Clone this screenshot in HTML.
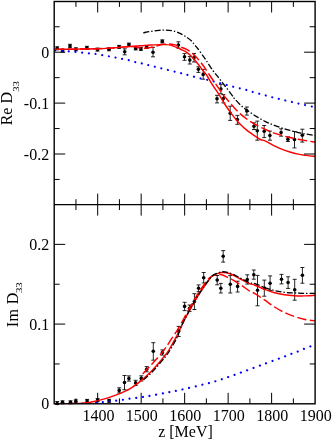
<!DOCTYPE html><html><head><meta charset="utf-8"><style>html,body{margin:0;padding:0;background:#fff}body{width:332px;height:441px;overflow:hidden}svg{will-change:transform}svg{display:block}text{font-family:"Liberation Serif",serif;fill:#000}</style></head><body>
<svg width="332" height="441" viewBox="0 0 332 441">
<rect width="332" height="441" fill="#fff"/>
<defs><clipPath id="ct"><rect x="54.20" y="1.50" width="260.90" height="203.10"/></clipPath><clipPath id="cb"><rect x="54.20" y="204.60" width="260.90" height="199.20"/></clipPath></defs>
<g stroke="#000" stroke-width="1" fill="#000">
<path stroke-width="0.85" d="M57.20 46.80V49.80M55.20 46.80H59.20M55.20 49.80H59.20" fill="none"/>
<circle cx="57.20" cy="48.30" r="1.8" stroke="none"/>
<path stroke-width="0.85" d="M62.60 49.00V52.00M60.60 49.00H64.60M60.60 52.00H64.60" fill="none"/>
<circle cx="62.60" cy="50.50" r="1.8" stroke="none"/>
<path stroke-width="0.85" d="M70.00 44.30V47.70M68.00 44.30H72.00M68.00 47.70H72.00" fill="none"/>
<circle cx="70.00" cy="46.00" r="1.8" stroke="none"/>
<path stroke-width="0.85" d="M75.90 47.80V50.80M73.90 47.80H77.90M73.90 50.80H77.90" fill="none"/>
<circle cx="75.90" cy="49.30" r="1.8" stroke="none"/>
<path stroke-width="0.85" d="M86.90 46.30V49.30M84.90 46.30H88.90M84.90 49.30H88.90" fill="none"/>
<circle cx="86.90" cy="47.80" r="1.8" stroke="none"/>
<path stroke-width="0.85" d="M97.50 48.10V51.10M95.50 48.10H99.50M95.50 51.10H99.50" fill="none"/>
<circle cx="97.50" cy="49.60" r="1.8" stroke="none"/>
<path stroke-width="0.85" d="M109.00 47.80V50.80M107.00 47.80H111.00M107.00 50.80H111.00" fill="none"/>
<circle cx="109.00" cy="49.30" r="1.8" stroke="none"/>
<path stroke-width="0.85" d="M119.10 45.40V48.40M117.10 45.40H121.10M117.10 48.40H121.10" fill="none"/>
<circle cx="119.10" cy="46.90" r="1.8" stroke="none"/>
<path stroke-width="0.85" d="M124.70 48.80V54.80M122.70 48.80H126.70M122.70 54.80H126.70" fill="none"/>
<circle cx="124.70" cy="51.80" r="1.8" stroke="none"/>
<path stroke-width="0.85" d="M128.90 43.10V46.10M126.90 43.10H130.90M126.90 46.10H130.90" fill="none"/>
<circle cx="128.90" cy="44.60" r="1.8" stroke="none"/>
<path stroke-width="0.85" d="M135.70 46.90V49.90M133.70 46.90H137.70M133.70 49.90H137.70" fill="none"/>
<circle cx="135.70" cy="48.40" r="1.8" stroke="none"/>
<path stroke-width="0.85" d="M140.90 47.40V50.40M138.90 47.40H142.90M138.90 50.40H142.90" fill="none"/>
<circle cx="140.90" cy="48.90" r="1.8" stroke="none"/>
<path stroke-width="0.85" d="M146.70 45.50V48.50M144.70 45.50H148.70M144.70 48.50H148.70" fill="none"/>
<circle cx="146.70" cy="47.00" r="1.8" stroke="none"/>
<path stroke-width="0.85" d="M153.00 47.30V56.80M151.00 47.30H155.00M151.00 56.80H155.00" fill="none"/>
<circle cx="153.00" cy="52.30" r="1.8" stroke="none"/>
<path stroke-width="0.85" d="M162.30 39.90V42.90M160.30 39.90H164.30M160.30 42.90H164.30" fill="none"/>
<circle cx="162.30" cy="41.40" r="1.8" stroke="none"/>
<path stroke-width="0.85" d="M178.40 41.80V48.10M176.40 41.80H180.40M176.40 48.10H180.40" fill="none"/>
<circle cx="178.40" cy="45.00" r="1.8" stroke="none"/>
<path stroke-width="0.85" d="M184.50 53.60V60.30M182.50 53.60H186.50M182.50 60.30H186.50" fill="none"/>
<circle cx="184.50" cy="56.80" r="1.8" stroke="none"/>
<path stroke-width="0.85" d="M189.80 56.60V64.00M187.80 56.60H191.80M187.80 64.00H191.80" fill="none"/>
<circle cx="189.80" cy="60.10" r="1.8" stroke="none"/>
<path stroke-width="0.85" d="M194.00 53.50V62.00M192.00 53.50H196.00M192.00 62.00H196.00" fill="none"/>
<circle cx="194.00" cy="57.80" r="1.8" stroke="none"/>
<path stroke-width="0.85" d="M198.40 66.80V72.40M196.40 66.80H200.40M196.40 72.40H200.40" fill="none"/>
<circle cx="198.40" cy="69.20" r="1.8" stroke="none"/>
<path stroke-width="0.85" d="M203.20 69.40V79.20M201.20 69.40H205.20M201.20 79.20H205.20" fill="none"/>
<circle cx="203.20" cy="74.40" r="1.8" stroke="none"/>
<path stroke-width="0.85" d="M217.00 95.30V102.90M215.00 95.30H219.00M215.00 102.90H219.00" fill="none"/>
<circle cx="217.00" cy="98.80" r="1.8" stroke="none"/>
<path stroke-width="0.85" d="M220.90 84.30V93.80M218.90 84.30H222.90M218.90 93.80H222.90" fill="none"/>
<circle cx="220.90" cy="89.00" r="1.8" stroke="none"/>
<path stroke-width="0.85" d="M223.40 94.60V102.90M221.40 94.60H225.40M221.40 102.90H225.40" fill="none"/>
<circle cx="223.40" cy="98.50" r="1.8" stroke="none"/>
<path stroke-width="0.85" d="M230.20 106.20V120.40M228.20 106.20H232.20M228.20 120.40H232.20" fill="none"/>
<circle cx="230.20" cy="113.30" r="1.8" stroke="none"/>
<path stroke-width="0.85" d="M237.40 115.40V124.30M235.40 115.40H239.40M235.40 124.30H239.40" fill="none"/>
<circle cx="237.40" cy="119.50" r="1.8" stroke="none"/>
<path stroke-width="0.85" d="M246.80 107.00V115.10M244.80 107.00H248.80M244.80 115.10H248.80" fill="none"/>
<circle cx="246.80" cy="110.90" r="1.8" stroke="none"/>
<path stroke-width="0.85" d="M254.00 122.80V129.50M252.00 122.80H256.00M252.00 129.50H256.00" fill="none"/>
<circle cx="254.00" cy="126.30" r="1.8" stroke="none"/>
<path stroke-width="0.85" d="M257.30 121.10V140.20M255.30 121.10H259.30M255.30 140.20H259.30" fill="none"/>
<circle cx="257.30" cy="130.80" r="1.8" stroke="none"/>
<path stroke-width="0.85" d="M264.20 125.50V137.60M262.20 125.50H266.20M262.20 137.60H266.20" fill="none"/>
<circle cx="264.20" cy="131.20" r="1.8" stroke="none"/>
<path stroke-width="0.85" d="M269.90 131.20V140.20M267.90 131.20H271.90M267.90 140.20H271.90" fill="none"/>
<circle cx="269.90" cy="135.50" r="1.8" stroke="none"/>
<path stroke-width="0.85" d="M281.10 128.80V136.20M279.10 128.80H283.10M279.10 136.20H283.10" fill="none"/>
<circle cx="281.10" cy="132.50" r="1.8" stroke="none"/>
<path stroke-width="0.85" d="M287.90 136.90V141.50M285.90 136.90H289.90M285.90 141.50H289.90" fill="none"/>
<circle cx="287.90" cy="139.20" r="1.8" stroke="none"/>
<path stroke-width="0.85" d="M294.50 131.50V147.90M292.50 131.50H296.50M292.50 147.90H296.50" fill="none"/>
<circle cx="294.50" cy="139.60" r="1.8" stroke="none"/>
<path stroke-width="0.85" d="M302.30 129.20V142.10M300.30 129.20H304.30M300.30 142.10H304.30" fill="none"/>
<circle cx="302.30" cy="135.20" r="1.8" stroke="none"/>
</g>
<g clip-path="url(#ct)" fill="none">
<path d="M55.30 50.40 C56.42 50.47 59.82 50.65 62.00 50.80 C64.18 50.95 66.22 51.12 68.40 51.30 C70.58 51.48 72.85 51.68 75.10 51.90 C77.35 52.12 79.63 52.35 81.90 52.60 C84.17 52.85 86.52 53.18 88.70 53.40 C90.88 53.62 92.82 53.63 95.00 53.90 C97.18 54.17 99.53 54.62 101.80 55.00 C104.07 55.38 106.35 55.78 108.60 56.20 C110.85 56.62 113.05 57.05 115.30 57.50 C117.55 57.95 119.92 58.47 122.10 58.90 C124.28 59.33 126.27 59.58 128.40 60.10 C130.53 60.62 132.68 61.45 134.90 62.00 C137.12 62.55 137.52 62.40 141.70 63.40 C145.88 64.40 153.37 66.35 160.00 68.00 C166.63 69.65 176.83 72.12 181.50 73.30 C186.17 74.48 185.82 74.50 188.00 75.10 C190.18 75.70 192.42 76.32 194.60 76.90 C196.78 77.48 198.98 78.12 201.10 78.60 C203.22 79.08 205.20 79.32 207.30 79.80 C209.40 80.28 211.50 80.92 213.70 81.50 C215.90 82.08 218.27 82.70 220.50 83.30 C222.73 83.90 224.92 84.52 227.10 85.10 C229.28 85.68 231.38 86.23 233.60 86.80 C235.82 87.37 238.18 87.95 240.40 88.50 C242.62 89.05 244.77 89.50 246.90 90.10 C249.03 90.70 251.03 91.47 253.20 92.10 C255.37 92.73 257.68 93.30 259.90 93.90 C262.12 94.50 264.35 95.12 266.50 95.70 C268.65 96.28 270.63 96.85 272.80 97.40 C274.97 97.95 277.32 98.47 279.50 99.00 C281.68 99.53 283.68 100.07 285.90 100.60 C288.12 101.13 290.58 101.68 292.80 102.20 C295.02 102.72 297.02 103.20 299.20 103.70 C301.38 104.20 303.65 104.70 305.90 105.20 C308.15 105.70 311.18 106.37 312.70 106.70 C314.22 107.03 314.62 107.12 315.00 107.20" stroke="#0000ff" stroke-width="2.2" stroke-linecap="round" stroke-dasharray="0.01 6.73"/>
<path d="M54.50 49.40 C57.92 49.35 68.25 49.20 75.00 49.10 C81.75 49.00 89.17 48.97 95.00 48.80 C100.83 48.63 104.98 48.42 110.00 48.10 C115.02 47.78 121.27 47.15 125.10 46.90 C128.93 46.65 130.52 46.43 133.00 46.60 C135.48 46.77 137.83 47.65 140.00 47.90 C142.17 48.15 144.00 48.22 146.00 48.10 C148.00 47.98 150.00 47.62 152.00 47.20 C154.00 46.78 156.17 46.07 158.00 45.60 C159.83 45.13 161.33 44.68 163.00 44.40 C164.67 44.12 166.17 43.87 168.00 43.90 C169.83 43.93 172.00 44.12 174.00 44.60 C176.00 45.08 177.75 45.93 180.00 46.80 C182.25 47.67 185.00 48.30 187.50 49.80 C190.00 51.30 192.48 53.30 195.00 55.80 C197.52 58.30 200.18 61.60 202.60 64.80 C205.02 68.00 207.22 71.67 209.50 75.00 C211.78 78.33 214.03 81.53 216.30 84.80 C218.57 88.07 221.15 91.98 223.10 94.60 C225.05 97.22 226.18 98.35 228.00 100.50 C229.82 102.65 232.00 105.32 234.00 107.50 C236.00 109.68 237.73 111.58 240.00 113.60 C242.27 115.62 245.08 117.80 247.60 119.60 C250.12 121.40 252.58 122.97 255.10 124.40 C257.62 125.83 260.18 127.03 262.70 128.20 C265.22 129.37 268.43 130.62 270.20 131.40 C271.97 132.18 271.40 132.23 273.30 132.90 C275.20 133.57 278.83 134.63 281.60 135.40 C284.37 136.17 287.15 136.87 289.90 137.50 C292.65 138.13 295.35 138.67 298.10 139.20 C300.85 139.73 303.58 140.20 306.40 140.70 C309.22 141.20 313.57 141.95 315.00 142.20" stroke="#ff0000" stroke-width="1.45" stroke-dasharray="9.5 3.3"/>
<path d="M54.50 49.40 C57.92 49.35 68.25 49.20 75.00 49.10 C81.75 49.00 89.17 48.97 95.00 48.80 C100.83 48.63 104.98 48.42 110.00 48.10 C115.02 47.78 120.07 47.28 125.10 46.90 C130.13 46.52 136.05 46.12 140.20 45.80 C144.35 45.48 146.70 45.20 150.00 45.00 C153.30 44.80 157.33 44.67 160.00 44.60 C162.67 44.53 164.00 44.43 166.00 44.60 C168.00 44.77 169.67 44.87 172.00 45.60 C174.33 46.33 177.42 47.80 180.00 49.00 C182.58 50.20 185.00 50.92 187.50 52.80 C190.00 54.68 192.48 57.42 195.00 60.30 C197.52 63.18 200.68 67.65 202.60 70.10 C204.52 72.55 204.85 72.55 206.50 75.00 C208.15 77.45 210.25 81.28 212.50 84.80 C214.75 88.32 217.92 92.82 220.00 96.10 C222.08 99.38 222.92 101.33 225.00 104.50 C227.08 107.67 230.00 111.83 232.50 115.10 C235.00 118.37 237.48 121.47 240.00 124.10 C242.52 126.73 245.08 128.90 247.60 130.90 C250.12 132.90 252.97 134.67 255.10 136.10 C257.23 137.53 258.75 138.70 260.40 139.50 C262.05 140.30 262.85 139.93 265.00 140.90 C267.15 141.87 270.53 143.93 273.30 145.30 C276.07 146.67 278.83 147.98 281.60 149.10 C284.37 150.22 287.15 151.17 289.90 152.00 C292.65 152.83 295.35 153.53 298.10 154.10 C300.85 154.67 303.58 155.00 306.40 155.40 C309.22 155.80 313.57 156.32 315.00 156.50" stroke="#ff0000" stroke-width="1.45"/>
<path d="M143.30 32.80 C144.63 32.55 148.68 31.70 151.30 31.30 C153.92 30.90 156.67 30.60 159.00 30.40 C161.33 30.20 163.17 30.05 165.30 30.10 C167.43 30.15 169.85 30.38 171.80 30.70 C173.75 31.02 175.22 31.33 177.00 32.00 C178.78 32.67 180.83 33.78 182.50 34.70 C184.17 35.62 185.53 36.48 187.00 37.50 C188.47 38.52 190.10 39.65 191.30 40.80 C192.50 41.95 193.07 43.03 194.20 44.40 C195.33 45.77 196.20 46.47 198.10 49.00 C200.00 51.53 203.10 55.95 205.60 59.60 C208.10 63.25 211.07 68.05 213.10 70.90 C215.13 73.75 215.88 74.27 217.80 76.70 C219.72 79.13 222.22 82.40 224.60 85.50 C226.98 88.60 230.40 93.05 232.10 95.30 C233.80 97.55 233.22 97.22 234.80 99.00 C236.38 100.78 239.22 103.88 241.60 106.00 C243.98 108.12 246.60 109.93 249.10 111.70 C251.60 113.47 253.95 115.00 256.60 116.60 C259.25 118.20 262.22 119.90 265.00 121.30 C267.78 122.70 270.53 123.90 273.30 125.00 C276.07 126.10 278.83 127.00 281.60 127.90 C284.37 128.80 287.15 129.62 289.90 130.40 C292.65 131.18 295.35 131.98 298.10 132.60 C300.85 133.22 303.58 133.62 306.40 134.10 C309.22 134.58 313.57 135.27 315.00 135.50" stroke="#000" stroke-width="1.3" stroke-dasharray="6 2 1.4 2"/>
</g>
<g stroke="#000" stroke-width="1" fill="#000">
<path stroke-width="0.85" d="M57.20 401.50V404.50M55.20 401.50H59.20M55.20 404.50H59.20" fill="none"/>
<circle cx="57.20" cy="403.50" r="1.8" stroke="none"/>
<path stroke-width="0.85" d="M62.50 400.80V403.80M60.50 400.80H64.50M60.50 403.80H64.50" fill="none"/>
<circle cx="62.50" cy="402.30" r="1.8" stroke="none"/>
<path stroke-width="0.85" d="M70.50 400.80V403.80M68.50 400.80H72.50M68.50 403.80H72.50" fill="none"/>
<circle cx="70.50" cy="402.30" r="1.8" stroke="none"/>
<path stroke-width="0.85" d="M75.80 399.80V402.80M73.80 399.80H77.80M73.80 402.80H77.80" fill="none"/>
<circle cx="75.80" cy="401.30" r="1.8" stroke="none"/>
<path stroke-width="0.85" d="M87.10 399.40V402.40M85.10 399.40H89.10M85.10 402.40H89.10" fill="none"/>
<circle cx="87.10" cy="400.90" r="1.8" stroke="none"/>
<path stroke-width="0.85" d="M97.60 398.60V401.60M95.60 398.60H99.60M95.60 401.60H99.60" fill="none"/>
<circle cx="97.60" cy="400.10" r="1.8" stroke="none"/>
<path stroke-width="0.85" d="M109.10 399.30V402.30M107.10 399.30H111.10M107.10 402.30H111.10" fill="none"/>
<circle cx="109.10" cy="400.80" r="1.8" stroke="none"/>
<path stroke-width="0.85" d="M119.20 387.80V393.00M117.20 387.80H121.20M117.20 393.00H121.20" fill="none"/>
<circle cx="119.20" cy="390.40" r="1.8" stroke="none"/>
<path stroke-width="0.85" d="M124.50 375.50V389.70M122.50 375.50H126.50M122.50 389.70H126.50" fill="none"/>
<circle cx="124.50" cy="382.50" r="1.8" stroke="none"/>
<path stroke-width="0.85" d="M128.90 375.90V381.10M126.90 375.90H130.90M126.90 381.10H130.90" fill="none"/>
<circle cx="128.90" cy="378.50" r="1.8" stroke="none"/>
<path stroke-width="0.85" d="M135.60 380.30V385.50M133.60 380.30H137.60M133.60 385.50H137.60" fill="none"/>
<circle cx="135.60" cy="382.90" r="1.8" stroke="none"/>
<path stroke-width="0.85" d="M141.30 375.80V381.00M139.30 375.80H143.30M139.30 381.00H143.30" fill="none"/>
<circle cx="141.30" cy="378.40" r="1.8" stroke="none"/>
<path stroke-width="0.85" d="M146.70 366.60V371.80M144.70 366.60H148.70M144.70 371.80H148.70" fill="none"/>
<circle cx="146.70" cy="369.20" r="1.8" stroke="none"/>
<path stroke-width="0.85" d="M153.30 342.70V360.20M151.30 342.70H155.30M151.30 360.20H155.30" fill="none"/>
<circle cx="153.30" cy="351.30" r="1.8" stroke="none"/>
<path stroke-width="0.85" d="M162.40 349.90V355.10M160.40 349.90H164.40M160.40 355.10H164.40" fill="none"/>
<circle cx="162.40" cy="352.50" r="1.8" stroke="none"/>
<path stroke-width="0.85" d="M178.60 326.40V336.50M176.60 326.40H180.60M176.60 336.50H180.60" fill="none"/>
<circle cx="178.60" cy="331.30" r="1.8" stroke="none"/>
<path stroke-width="0.85" d="M184.60 302.30V310.60M182.60 302.30H186.60M182.60 310.60H186.60" fill="none"/>
<circle cx="184.60" cy="306.40" r="1.8" stroke="none"/>
<path stroke-width="0.85" d="M189.60 305.00V311.40M187.60 305.00H191.60M187.60 311.40H191.60" fill="none"/>
<circle cx="189.60" cy="308.20" r="1.8" stroke="none"/>
<path stroke-width="0.85" d="M194.40 293.70V309.50M192.40 293.70H196.40M192.40 309.50H196.40" fill="none"/>
<circle cx="194.40" cy="301.60" r="1.8" stroke="none"/>
<path stroke-width="0.85" d="M198.60 284.90V291.60M196.60 284.90H200.60M196.60 291.60H200.60" fill="none"/>
<circle cx="198.60" cy="288.20" r="1.8" stroke="none"/>
<path stroke-width="0.85" d="M203.70 272.50V283.00M201.70 272.50H205.70M201.70 283.00H205.70" fill="none"/>
<circle cx="203.70" cy="277.70" r="1.8" stroke="none"/>
<path stroke-width="0.85" d="M217.20 275.50V284.80M215.20 275.50H219.20M215.20 284.80H219.20" fill="none"/>
<circle cx="217.20" cy="280.10" r="1.8" stroke="none"/>
<path stroke-width="0.85" d="M220.80 283.40V293.00M218.80 283.40H222.80M218.80 293.00H222.80" fill="none"/>
<circle cx="220.80" cy="288.20" r="1.8" stroke="none"/>
<path stroke-width="0.85" d="M223.20 250.60V262.10M221.20 250.60H225.20M221.20 262.10H225.20" fill="none"/>
<circle cx="223.20" cy="256.30" r="1.8" stroke="none"/>
<path stroke-width="0.85" d="M230.30 275.60V293.00M228.30 275.60H232.30M228.30 293.00H232.30" fill="none"/>
<circle cx="230.30" cy="284.20" r="1.8" stroke="none"/>
<path stroke-width="0.85" d="M237.60 281.20V292.00M235.60 281.20H239.60M235.60 292.00H239.60" fill="none"/>
<circle cx="237.60" cy="286.40" r="1.8" stroke="none"/>
<path stroke-width="0.85" d="M247.30 274.80V284.10M245.30 274.80H249.30M245.30 284.10H249.30" fill="none"/>
<circle cx="247.30" cy="279.50" r="1.8" stroke="none"/>
<path stroke-width="0.85" d="M253.80 270.00V279.20M251.80 270.00H255.80M251.80 279.20H255.80" fill="none"/>
<circle cx="253.80" cy="274.80" r="1.8" stroke="none"/>
<path stroke-width="0.85" d="M257.50 275.40V305.80M255.50 275.40H259.50M255.50 305.80H259.50" fill="none"/>
<circle cx="257.50" cy="290.20" r="1.8" stroke="none"/>
<path stroke-width="0.85" d="M264.30 280.10V296.20M262.30 280.10H266.30M262.30 296.20H266.30" fill="none"/>
<circle cx="264.30" cy="288.00" r="1.8" stroke="none"/>
<path stroke-width="0.85" d="M270.10 275.90V290.40M268.10 275.90H272.10M268.10 290.40H272.10" fill="none"/>
<circle cx="270.10" cy="283.20" r="1.8" stroke="none"/>
<path stroke-width="0.85" d="M281.50 274.40V283.90M279.50 274.40H283.50M279.50 283.90H283.50" fill="none"/>
<circle cx="281.50" cy="279.30" r="1.8" stroke="none"/>
<path stroke-width="0.85" d="M288.10 276.80V288.40M286.10 276.80H290.10M286.10 288.40H290.10" fill="none"/>
<circle cx="288.10" cy="282.50" r="1.8" stroke="none"/>
<path stroke-width="0.85" d="M294.70 279.30V300.20M292.70 279.30H296.70M292.70 300.20H296.70" fill="none"/>
<circle cx="294.70" cy="289.80" r="1.8" stroke="none"/>
<path stroke-width="0.85" d="M302.40 267.50V283.20M300.40 267.50H304.40M300.40 283.20H304.40" fill="none"/>
<circle cx="302.40" cy="275.20" r="1.8" stroke="none"/>
</g>
<g clip-path="url(#cb)" fill="none">
<path d="M55.70 404.00 C58.92 403.97 69.45 403.90 75.00 403.80 C80.55 403.70 85.53 403.57 89.00 403.40 C92.47 403.23 93.53 403.02 95.80 402.80 C98.07 402.58 100.33 402.35 102.60 402.10 C104.87 401.85 107.20 401.55 109.40 401.30 C111.60 401.05 113.60 400.85 115.80 400.60 C118.00 400.35 120.42 400.12 122.60 399.80 C124.78 399.48 126.67 399.02 128.90 398.70 C131.13 398.38 133.70 398.18 136.00 397.90 C138.30 397.62 140.37 397.35 142.70 397.00 C145.03 396.65 146.28 396.47 150.00 395.80 C153.72 395.13 160.00 393.97 165.00 393.00 C170.00 392.03 174.50 391.20 180.00 390.00 C185.50 388.80 192.17 387.23 198.00 385.80 C203.83 384.37 209.50 383.02 215.00 381.40 C220.50 379.78 225.73 377.92 231.00 376.10 C236.27 374.28 241.43 372.38 246.60 370.50 C251.77 368.62 258.65 366.05 262.00 364.80 C265.35 363.55 264.87 363.67 266.70 363.00 C268.53 362.33 270.90 361.55 273.00 360.80 C275.10 360.05 277.18 359.28 279.30 358.50 C281.42 357.72 283.58 356.92 285.70 356.10 C287.82 355.28 289.90 354.40 292.00 353.60 C294.10 352.80 296.20 352.13 298.30 351.30 C300.40 350.47 302.48 349.45 304.60 348.60 C306.72 347.75 309.27 346.87 311.00 346.20 C312.73 345.53 314.33 344.87 315.00 344.60" stroke="#0000ff" stroke-width="2.2" stroke-linecap="round" stroke-dasharray="0.01 6.73"/>
<path d="M142.70 373.90 C143.93 372.58 147.60 368.68 150.10 366.00 C152.60 363.32 155.43 360.38 157.70 357.80 C159.97 355.22 161.97 352.77 163.70 350.50 C165.43 348.23 166.72 346.25 168.10 344.20 C169.48 342.15 170.62 340.30 172.00 338.20 C173.38 336.10 175.12 333.60 176.40 331.60 C177.68 329.60 178.55 328.22 179.70 326.20 C180.85 324.18 181.68 322.50 183.30 319.50 C184.92 316.50 187.38 311.82 189.40 308.20 C191.42 304.58 193.40 301.10 195.40 297.80 C197.40 294.50 199.53 291.17 201.40 288.40 C203.27 285.63 205.07 283.10 206.60 281.20 C208.13 279.30 208.93 278.12 210.60 277.00 C212.27 275.88 214.77 274.87 216.60 274.50 C218.43 274.13 219.95 274.42 221.60 274.80 C223.25 275.18 224.57 275.90 226.50 276.80 C228.43 277.70 230.72 278.78 233.20 280.20 C235.68 281.62 238.65 283.48 241.40 285.30 C244.15 287.12 247.43 289.72 249.70 291.10 C251.97 292.48 252.48 292.08 255.00 293.60 C257.52 295.12 261.53 297.97 264.80 300.20 C268.07 302.43 271.33 304.95 274.60 307.00 C277.87 309.05 281.13 310.93 284.40 312.50 C287.67 314.07 290.95 315.28 294.20 316.40 C297.45 317.52 300.43 318.45 303.90 319.20 C307.37 319.95 313.15 320.62 315.00 320.90" stroke="#ff0000" stroke-width="1.45" stroke-dasharray="9.5 3.3"/>
<path d="M54.50 403.80 C57.08 403.77 65.75 403.67 70.00 403.60 C74.25 403.53 77.08 403.53 80.00 403.40 C82.92 403.27 84.98 403.15 87.50 402.80 C90.02 402.45 92.58 401.87 95.10 401.30 C97.62 400.73 100.10 400.10 102.60 399.40 C105.10 398.70 107.58 397.93 110.10 397.10 C112.62 396.27 115.18 395.40 117.70 394.40 C120.22 393.40 123.20 392.03 125.20 391.10 C127.20 390.17 128.05 389.75 129.70 388.80 C131.35 387.85 132.95 386.97 135.10 385.40 C137.25 383.83 140.10 381.53 142.60 379.40 C145.10 377.27 147.58 375.12 150.10 372.60 C152.62 370.08 155.18 367.18 157.70 364.30 C160.22 361.42 163.33 357.68 165.20 355.30 C167.07 352.92 167.03 353.12 168.90 350.00 C170.77 346.88 174.47 340.23 176.40 336.60 C178.33 332.97 179.12 331.05 180.50 328.20 C181.88 325.35 182.98 322.83 184.70 319.50 C186.42 316.17 188.78 311.82 190.80 308.20 C192.82 304.58 194.80 301.10 196.80 297.80 C198.80 294.50 200.93 291.17 202.80 288.40 C204.67 285.63 206.47 283.22 208.00 281.20 C209.53 279.18 210.67 277.47 212.00 276.30 C213.33 275.13 214.40 274.83 216.00 274.20 C217.60 273.57 219.85 272.73 221.60 272.50 C223.35 272.27 224.57 272.38 226.50 272.80 C228.43 273.22 230.72 273.88 233.20 275.00 C235.68 276.12 238.65 278.07 241.40 279.50 C244.15 280.93 247.43 282.65 249.70 283.60 C251.97 284.55 252.48 284.23 255.00 285.20 C257.52 286.17 261.53 288.15 264.80 289.40 C268.07 290.65 271.33 291.82 274.60 292.70 C277.87 293.58 281.13 294.20 284.40 294.70 C287.67 295.20 290.95 295.50 294.20 295.70 C297.45 295.90 300.43 295.97 303.90 295.90 C307.37 295.83 313.15 295.40 315.00 295.30" stroke="#ff0000" stroke-width="1.45"/>
<path d="M143.40 380.00 C144.62 378.92 148.22 375.97 150.70 373.50 C153.18 371.03 155.78 368.08 158.30 365.20 C160.82 362.32 163.93 358.57 165.80 356.20 C167.67 353.83 167.63 354.10 169.50 351.00 C171.37 347.90 175.25 341.23 177.00 337.60 C178.75 333.97 178.80 332.08 180.00 329.20 C181.20 326.32 182.48 323.70 184.20 320.30 C185.92 316.90 188.28 312.48 190.30 308.80 C192.32 305.12 194.22 301.58 196.30 298.20 C198.38 294.82 200.85 291.37 202.80 288.50 C204.75 285.63 206.47 283.08 208.00 281.00 C209.53 278.92 210.67 277.22 212.00 276.00 C213.33 274.78 214.40 274.38 216.00 273.70 C217.60 273.02 219.85 272.17 221.60 271.90 C223.35 271.63 224.57 271.70 226.50 272.10 C228.43 272.50 230.72 273.20 233.20 274.30 C235.68 275.40 238.65 277.30 241.40 278.70 C244.15 280.10 247.43 281.88 249.70 282.70 C251.97 283.52 252.48 282.78 255.00 283.60 C257.52 284.42 261.53 286.43 264.80 287.60 C268.07 288.77 271.33 289.82 274.60 290.60 C277.87 291.38 281.13 291.92 284.40 292.30 C287.67 292.68 290.95 292.73 294.20 292.90 C297.45 293.07 300.43 293.23 303.90 293.30 C307.37 293.37 313.15 293.30 315.00 293.30" stroke="#000" stroke-width="1.3" stroke-dasharray="6 2 1.4 2"/>
</g>
<g stroke="#000" stroke-width="1.4" fill="none">
<rect x="54.20" y="1.50" width="260.90" height="402.30"/>
<path d="M54.20 204.60H315.10"/>
<path stroke-width="1" d="M75.94 1.50v5.40M75.94 199.20v10.80M75.94 403.80v-5.40M97.68 1.50v11.00M97.68 193.60v22.00M97.68 403.80v-11.00M119.43 1.50v5.40M119.43 199.20v10.80M119.43 403.80v-5.40M141.17 1.50v11.00M141.17 193.60v22.00M141.17 403.80v-11.00M162.91 1.50v5.40M162.91 199.20v10.80M162.91 403.80v-5.40M184.65 1.50v11.00M184.65 193.60v22.00M184.65 403.80v-11.00M206.39 1.50v5.40M206.39 199.20v10.80M206.39 403.80v-5.40M228.13 1.50v11.00M228.13 193.60v22.00M228.13 403.80v-11.00M249.88 1.50v5.40M249.88 199.20v10.80M249.88 403.80v-5.40M271.62 1.50v11.00M271.62 193.60v22.00M271.62 403.80v-11.00M293.36 1.50v5.40M293.36 199.20v10.80M293.36 403.80v-5.40M54.20 26.75h5.40M315.10 26.75h-5.40M54.20 52.20h11.00M315.10 52.20h-11.00M54.20 77.65h5.40M315.10 77.65h-5.40M54.20 103.10h11.00M315.10 103.10h-11.00M54.20 128.55h5.40M315.10 128.55h-5.40M54.20 154.00h11.00M315.10 154.00h-11.00M54.20 179.45h5.40M315.10 179.45h-5.40M54.20 363.94h5.40M315.10 363.94h-5.40M54.20 324.08h11.00M315.10 324.08h-11.00M54.20 284.22h5.40M315.10 284.22h-5.40M54.20 244.36h11.00M315.10 244.36h-11.00"/>
</g>
<g font-size="16px">
<text x="49.2" y="57.80" text-anchor="end">0</text>
<text x="49.2" y="108.70" text-anchor="end">-0.1</text>
<text x="49.2" y="159.60" text-anchor="end">-0.2</text>
<text x="49.2" y="409.40" text-anchor="end">0</text>
<text x="49.2" y="329.68" text-anchor="end">0.1</text>
<text x="49.2" y="249.96" text-anchor="end">0.2</text>
<text x="98.38" y="421" text-anchor="middle">1400</text>
<text x="141.87" y="421" text-anchor="middle">1500</text>
<text x="185.35" y="421" text-anchor="middle">1600</text>
<text x="228.83" y="421" text-anchor="middle">1700</text>
<text x="272.32" y="421" text-anchor="middle">1800</text>
<text x="315.80" y="421" text-anchor="middle">1900</text>
<text x="185.5" y="436.5" text-anchor="middle">z [MeV]</text>
<text transform="translate(12.3,125.3) rotate(-90)">Re D</text><text transform="translate(18.7,91.8) rotate(-90) scale(1.36,1)" font-size="7.9px">33</text>
<text transform="translate(17.6,327.2) rotate(-90)" letter-spacing="0.4">Im D</text><text transform="translate(22.4,293.0) rotate(-90) scale(1.36,1)" font-size="7.9px">33</text>
</g>
</svg></body></html>
